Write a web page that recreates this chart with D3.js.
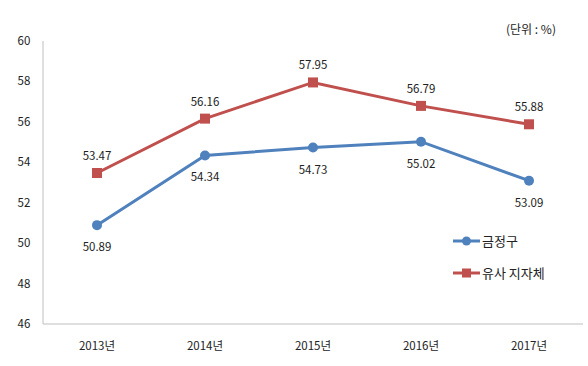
<!DOCTYPE html>
<html><head><meta charset="utf-8">
<script src="https://cdn.jsdelivr.net/npm/d3@7"></script>
<style>body{margin:0;background:#fff}svg{display:block}text{font-family:"Noto Sans CJK KR","Noto Sans",sans-serif;fill:#222}</style>
</head><body><svg id="c" width="588" height="366"></svg>
<script>
const categories = ["2013년","2014년","2015년","2016년","2017년"];
const seriesNames = ["금정구","유사 지자체"];
const geumjeong = [50.89,54.34,54.73,55.02,53.09];
const similar = [53.47,56.16,57.95,56.79,55.88];
const yTicks = [46,48,50,52,54,56,58,60];
const colors = ["#4F81BD","#C0504D"];

const svg = d3.select("#c");
const x = d3.scaleBand().domain(categories).range([43,583]);
const y = d3.scaleLinear().domain([46,60]).range([324,41]);

// axes
svg.append("line").attr("x1",43).attr("x2",43).attr("y1",41).attr("y2",324).attr("stroke","#bfbfbf");
svg.append("line").attr("x1",43).attr("x2",583).attr("y1",324).attr("y2",324).attr("stroke","#bfbfbf");
svg.selectAll(".yt").data(yTicks).enter().append("text")
  .attr("x",24).attr("y",d=>y(d)).attr("dy","0.35em").attr("text-anchor","middle")
  .attr("font-size",11.5).text(d=>d);
svg.selectAll(".xt").data(categories).enter().append("text")
  .attr("x",d=>x(d)+x.bandwidth()/2).attr("y",346).attr("dy","0.35em").attr("text-anchor","middle")
  .attr("font-size",11.5).text(d=>d);

const cx = d=>x(d)+x.bandwidth()/2;
const line = d3.line().x((d,i)=>cx(categories[i])).y(d=>y(d));

// red series
svg.append("path").datum(similar).attr("d",line).attr("fill","none").attr("stroke",colors[1]).attr("stroke-width",3);
svg.selectAll(".rm").data(similar).enter().append("rect")
  .attr("x",(d,i)=>cx(categories[i])-5).attr("y",d=>y(d)-5).attr("width",10).attr("height",10).attr("fill",colors[1]);
svg.selectAll(".rl").data(similar).enter().append("text")
  .attr("x",(d,i)=>cx(categories[i])).attr("y",d=>y(d)-17).attr("dy","0.35em").attr("text-anchor","middle")
  .attr("font-size",11.5).text(d=>d.toFixed(2));

// blue series
svg.append("path").datum(geumjeong).attr("d",line).attr("fill","none").attr("stroke",colors[0]).attr("stroke-width",3);
svg.selectAll(".bm").data(geumjeong).enter().append("circle")
  .attr("cx",(d,i)=>cx(categories[i])).attr("cy",d=>y(d)).attr("r",5).attr("fill",colors[0]);
svg.selectAll(".bl").data(geumjeong).enter().append("text")
  .attr("x",(d,i)=>cx(categories[i])).attr("y",d=>y(d)+22).attr("dy","0.35em").attr("text-anchor","middle")
  .attr("font-size",11.5).text(d=>d.toFixed(2));

// unit
svg.append("text").attr("x",531).attr("y",30).attr("dy","0.35em").attr("text-anchor","middle").attr("font-size",12).text("(단위 : %)");

// legend
const ly = [241,273];
seriesNames.forEach((n,i)=>{
  const g = svg.append("g");
  g.append("line").attr("x1",453).attr("x2",480).attr("y1",ly[i]).attr("y2",ly[i]).attr("stroke",colors[i]).attr("stroke-width",3);
  if(i===0) g.append("circle").attr("cx",466.5).attr("cy",ly[i]).attr("r",4.5).attr("fill",colors[i]);
  else g.append("rect").attr("x",462).attr("y",ly[i]-4.5).attr("width",9).attr("height",9).attr("fill",colors[i]);
  g.append("text").attr("x",482).attr("y",ly[i]).attr("dy","0.35em").attr("font-size",13).text(n);
});
</script></body></html>
